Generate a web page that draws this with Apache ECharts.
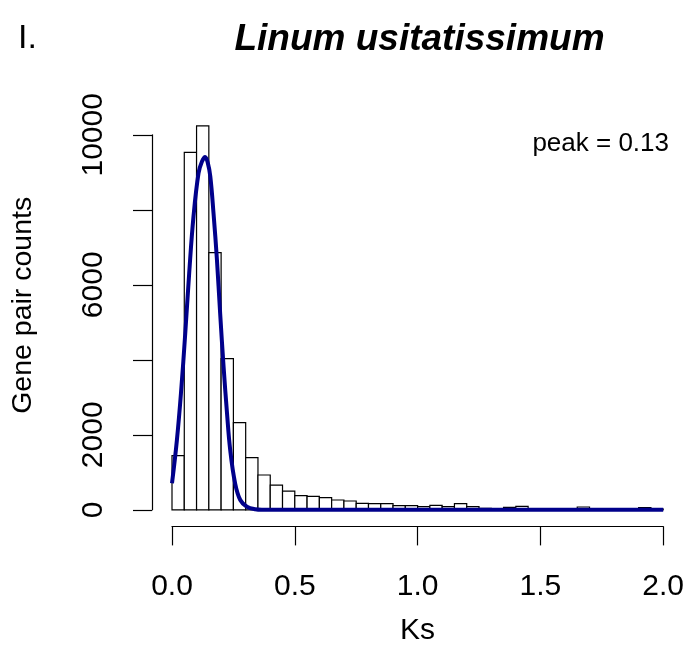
<!DOCTYPE html>
<html>
<head>
<meta charset="utf-8">
<script src="https://cdn.jsdelivr.net/npm/echarts@6/dist/echarts.min.js"></script>
<style>
	html, body { margin: 0; padding: 0; background: #fff; }
	#main { width: 694px; height: 646px; }
</style>
</head>
<body>
<div id="main"></div>
<script>
	//Ks 直方图区间 (下边界, 宽 0.05)
	var binStarts = [0.00, 0.05, 0.10, 0.15, 0.20, 0.25, 0.30, 0.35, 0.40, 0.45,
		0.50, 0.55, 0.60, 0.65, 0.70, 0.75, 0.80, 0.85, 0.90, 0.95,
		1.00, 1.05, 1.10, 1.15, 1.20, 1.25, 1.30, 1.35, 1.40, 1.45,
		1.50, 1.55, 1.60, 1.65, 1.70, 1.75, 1.80, 1.85, 1.90, 1.95];
	var binWidth = 0.05;
	//每个区间的基因对数
	var pairCounts = [1445, 9530, 10240, 6860, 4032, 2324, 1390, 928, 660, 500,
		376, 360, 323, 261, 235, 174, 163, 163, 110, 110,
		83, 120, 83, 163, 83, 40, 30, 67, 93, 30,
		25, 25, 25, 75, 25, 20, 20, 20, 56, 20];
	//拟合曲线 (Ks, 数量)
	var fitKs = [0.000, 0.020, 0.0375, 0.054, 0.070, 0.0875, 0.108, 0.122, 0.135, 0.146,
		0.156, 0.169, 0.183, 0.196, 0.210, 0.224, 0.237, 0.257, 0.278, 0.305,
		0.339, 0.366, 0.40, 0.50, 1.00, 1.50, 2.000];
	var fitCounts = [707, 1862, 3196, 4709, 6310, 7820, 8978, 9288, 9405, 9245,
		8888, 7911, 6665, 5243, 3818, 2575, 1596, 707, 261, 83,
		13, 0, 0, 0, 0, 0, 0];
	//刻度标签
	var xTicks = [0, 0.5, 1, 1.5, 2];
	var xTickLabels = ['0.0', '0.5', '1.0', '1.5', '2.0'];
	var yTicks = [0, 2000, 4000, 6000, 8000, 10000];
	var yTickLabels = ['0', '2000', '', '6000', '', '10000'];

	var FONT = '"Liberation Sans", Arial, Helvetica, sans-serif';

	var histData = [];
	for (var i = 0; i < binStarts.length; i++) {
		histData.push([binStarts[i], binStarts[i] + binWidth, pairCounts[i]]);
	}
	var fitData = [];
	for (var j = 0; j < fitKs.length; j++) {
		fitData.push([fitKs[j], fitCounts[j]]);
	}

	var myChart = echarts.init(document.getElementById('main'), null, { renderer: 'canvas' });

	var option = {
		backgroundColor: '#fff',
		animation: false,
		title: [
			{
				text: 'Linum usitatissimum',
				left: 414.5,
				top: 16,
				textAlign: 'center',
				textStyle: { fontFamily: FONT, fontSize: 37, fontWeight: 'bold', fontStyle: 'italic', color: '#000' }
			},
			{
				text: 'I.',
				left: 13,
				top: 17,
				textStyle: { fontFamily: FONT, fontSize: 34, fontWeight: 'normal', color: '#000' }
			},
			{
				text: 'peak = 0.13',
				left: 664,
				top: 126,
				textAlign: 'right',
				textStyle: { fontFamily: FONT, fontSize: 26, fontWeight: 'normal', color: '#000' }
			}
		],
		grid: {
			left: 172,
			right: 30.8,
			top: 134.8,
			bottom: 136.2,
			containLabel: false,
			outerBoundsMode: 'none'
		},
		xAxis: {
			type: 'value',
			min: 0,
			max: 2,
			interval: 0.5,
			offset: 16.6,
			name: 'Ks',
			nameLocation: 'middle',
			nameGap: 89,
			nameTextStyle: { fontFamily: FONT, fontSize: 30, color: '#000' },
			axisLine: { show: true, onZero: false, lineStyle: { color: '#000', width: 1.2 } },
			axisTick: { show: true, length: 19, lineStyle: { color: '#000', width: 1.2 } },
			axisLabel: {
				margin: 45,
				fontFamily: FONT,
				fontSize: 30,
				color: '#000',
				formatter: function (v) {
					var k = xTicks.indexOf(v);
					return k >= 0 ? xTickLabels[k] : '';
				}
			},
			splitLine: { show: false }
		},
		yAxis: {
			type: 'value',
			min: 0,
			max: 10000,
			interval: 2000,
			offset: 20,
			name: 'Gene pair counts',
			nameLocation: 'middle',
			nameGap: 114,
			nameTextStyle: { fontFamily: FONT, fontSize: 28.5, color: '#000', padding: [0, 0, 0, 34] },
			axisLine: { show: true, onZero: false, lineStyle: { color: '#000', width: 1.2 } },
			axisTick: { show: true, length: 19, lineStyle: { color: '#000', width: 1.2 } },
			axisLabel: {
				rotate: 90,
				margin: 43,
				fontFamily: FONT,
				fontSize: 30,
				color: '#000',
				formatter: function (v) {
					var k = yTicks.indexOf(v);
					return k >= 0 ? yTickLabels[k] : '';
				}
			},
			splitLine: { show: false }
		},
		series: [
			{
				type: 'custom',
				name: 'hist',
				clip: false,
				z: 2,
				data: histData,
				encode: { x: [0, 1], y: 2 },
				renderItem: function (params, api) {
					var topLeft = api.coord([api.value(0), api.value(2)]);
					var bottomRight = api.coord([api.value(1), 0]);
					return {
						type: 'rect',
						shape: {
							x: topLeft[0],
							y: topLeft[1],
							width: bottomRight[0] - topLeft[0],
							height: bottomRight[1] - topLeft[1]
						},
						style: { fill: '#fff', stroke: '#000', lineWidth: 1.2 }
					};
				}
			},
			{
				type: 'line',
				name: 'fit',
				z: 5,
				data: fitData,
				smooth: 0.4,
				showSymbol: false,
				symbol: 'none',
				clip: false,
				lineStyle: { color: '#00008B', width: 4 }
			}
		]
	};

	myChart.setOption(option);
</script>
</body>
</html>
